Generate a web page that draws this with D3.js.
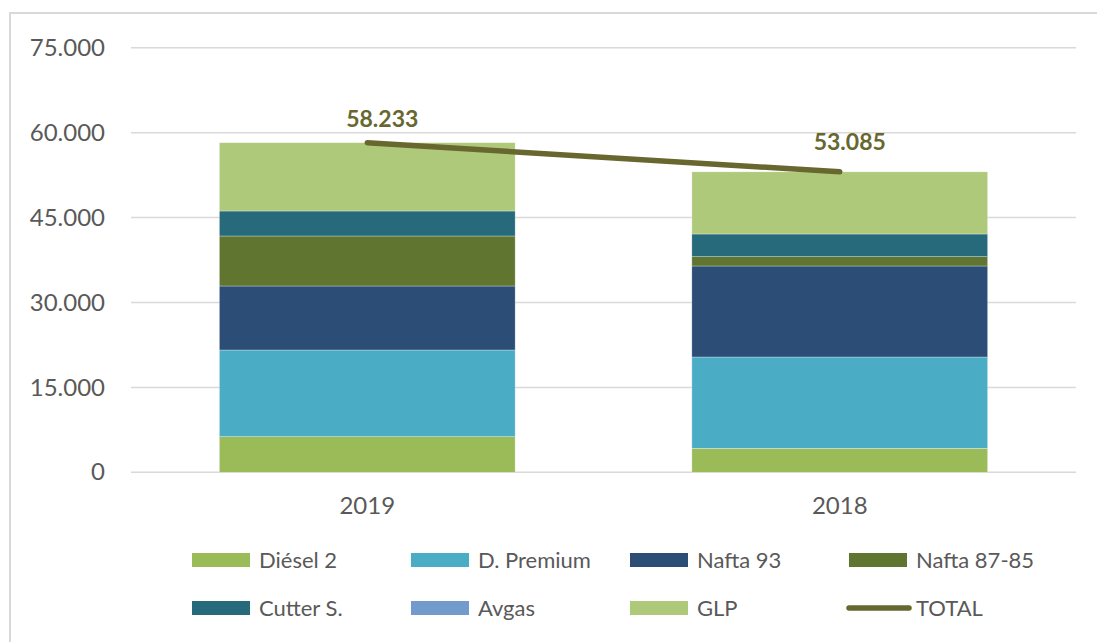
<!DOCTYPE html>
<html><head><meta charset="utf-8">
<script src="https://cdn.jsdelivr.net/npm/d3@7"></script>
<style>
html,body{margin:0;padding:0;background:#fff;}
svg{display:block;font-family:Lato,"Open Sans",sans-serif;}
</style></head>
<body>
<svg id="chart" width="1097" height="642"></svg>
<script>
const categories = ["2019", "2018"];
const seriesNames = ["Diésel 2", "D. Premium", "Nafta 93", "Nafta 87-85", "Cutter S.", "Avgas", "GLP"];
const diesel2   = [6290, 4240];
const dPremium  = [15318, 16131];
const nafta93   = [11307, 16078];
const nafta8785 = [8834, 1643];
const cutterS   = [4417, 4010];
const avgas     = [0, 0];
const glp       = [12067, 10983];
const total     = [58233, 53085];
const totalLabels = ["58.233", "53.085"];
const yTicks = [0, 15000, 30000, 45000, 60000, 75000];
const yTickLabels = ["0", "15.000", "30.000", "45.000", "60.000", "75.000"];

const colors = ["#9BBB59", "#4BACC6", "#2C4D75", "#5F7530", "#276A7C", "#729ACA", "#AFC97A"];
const totalColor = "#67672F";
const textColor = "#595959";

const seriesValues = [diesel2, dPremium, nafta93, nafta8785, cutterS, avgas, glp];
const rows = categories.map((c, i) => {
  const r = {cat: c};
  seriesNames.forEach((s, j) => r[s] = seriesValues[j][i]);
  return r;
});
const stack = d3.stack().keys(seriesNames)(rows);

const svg = d3.select("#chart");
// outer border
svg.append("rect").attr("x", 10).attr("y", 13).attr("width", 1100).attr("height", 640)
  .attr("fill", "none").attr("stroke", "#D9D9D9").attr("stroke-width", 2);

const left = 131, right = 1076;
const y = d3.scaleLinear().domain([0, 75000]).range([472.3, 47.8]);
const x = d3.scaleBand().domain(categories).range([left, right]).padding(0);
const barW = x.bandwidth() * 0.626;

// gridlines
svg.append("g").selectAll("line").data(yTicks).join("line")
  .attr("x1", left).attr("x2", right)
  .attr("y1", d => y(d)).attr("y2", d => y(d))
  .attr("stroke", "#D9D9D9").attr("stroke-width", 1.5);

// y axis labels
const yAxis = d3.axisLeft(y).tickValues(yTicks).tickSize(0).tickPadding(0)
  .tickFormat((d, i) => yTickLabels[i]);
const gy = svg.append("g").attr("transform", "translate(105,0)").call(yAxis);
gy.select(".domain").remove();
gy.selectAll("text").attr("fill", textColor).style("font-size", "24px")
  .style("font-family", "Lato, 'Open Sans', sans-serif");

// x axis labels
const xAxis = d3.axisBottom(x).tickSize(0).tickPadding(0);
const gx = svg.append("g").attr("transform", "translate(0,497)").call(xAxis);
gx.select(".domain").remove();
gx.selectAll("text").attr("fill", textColor).style("font-size", "24px")
  .style("font-family", "Lato, 'Open Sans', sans-serif");

// bars
svg.append("g").selectAll("g").data(stack).join("g")
  .attr("fill", (d, i) => colors[i])
  .selectAll("rect").data(d => d).join("rect")
  .attr("x", d => x(d.data.cat) + (x.bandwidth() - barW) / 2)
  .attr("width", barW)
  .attr("y", d => y(d[1]))
  .attr("height", d => Math.max(0, y(d[0]) - y(d[1])))
  .attr("stroke", "rgba(255,255,255,0.5)").attr("stroke-width", 0.6);

// total line
const cx = c => x(c) + x.bandwidth() / 2;
const line = d3.line().x((d, i) => cx(categories[i])).y(d => y(d));
svg.append("path").datum(total).attr("d", line)
  .attr("fill", "none").attr("stroke", totalColor).attr("stroke-width", 5.5)
  .attr("stroke-linecap", "round");

// total labels
const labelDx = [15, 10], labelDy = [-16, -22];
svg.append("g").selectAll("text").data(total).join("text")
  .attr("x", (d, i) => cx(categories[i]) + labelDx[i])
  .attr("y", (d, i) => y(d) + labelDy[i])
  .attr("text-anchor", "middle")
  .attr("fill", totalColor).style("font-size", "23px").style("font-weight", "bold")
  .text((d, i) => totalLabels[i]);

// legend
const legendItems = seriesNames.map((s, i) => ({name: s, color: colors[i], type: "rect"}))
  .concat([{name: "TOTAL", color: totalColor, type: "line"}]);
const colX = [192, 411, 630, 849];
const rowY = [560, 608];
const lg = svg.append("g").selectAll("g").data(legendItems).join("g")
  .attr("transform", (d, i) => `translate(${colX[i % 4]},${rowY[Math.floor(i / 4)]})`);
lg.filter(d => d.type === "rect").append("rect")
  .attr("x", 0).attr("y", -7).attr("width", 58).attr("height", 14).attr("fill", d => d.color);
lg.filter(d => d.type === "line").append("line")
  .attr("x1", 0).attr("x2", 60).attr("y1", 0).attr("y2", 0)
  .attr("stroke", d => d.color).attr("stroke-width", 5.5).attr("stroke-linecap", "round");
lg.append("text").attr("x", 67).attr("y", 0).attr("dy", "0.36em")
  .attr("fill", textColor).style("font-size", "22px").text(d => d.name);
</script>
</body></html>
